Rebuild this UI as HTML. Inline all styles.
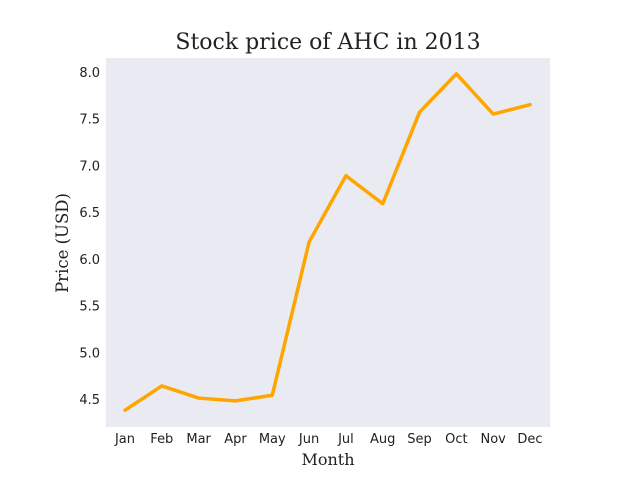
<!DOCTYPE html>
<html><head><meta charset="utf-8"><style>
body{margin:0;background:#fff;}
svg{display:block;}
</style></head><body>
<svg id="chart" width="640" height="480" xmlns="http://www.w3.org/2000/svg">
<rect x="0" y="0" width="640" height="480" fill="#fff"/>
<rect x="106" y="58" width="444" height="369" fill="#eaeaf2"/>
<text x="328" y="49" text-anchor="middle" font-family="DejaVu Serif, serif" font-size="22" fill="#222">Stock price of AHC in 2013</text>
<text x="328" y="465" text-anchor="middle" font-family="DejaVu Serif, serif" font-size="16" fill="#222">Month</text>
<text transform="translate(68,243) rotate(-90)" text-anchor="middle" font-family="DejaVu Serif, serif" font-size="16.5" fill="#222">Price (USD)</text>
<g id="xt"></g><g id="yt"></g>
<polyline id="line" fill="none" stroke="#ffa500" stroke-width="3.5" stroke-linejoin="round" stroke-linecap="round"/>
</svg>
<script>
const months = ["Jan","Feb","Mar","Apr","May","Jun","Jul","Aug","Sep","Oct","Nov","Dec"];
const prices = [4.38,4.64,4.51,4.48,4.54,6.18,6.89,6.59,7.57,7.98,7.55,7.65];
const yTicks = [4.5,5.0,5.5,6.0,6.5,7.0,7.5,8.0];
const ns="http://www.w3.org/2000/svg";
function xs(i){return 125+i*(530-125)/11;}
function ys(v){return 399-(v-4.5)*(399-72)/3.5;}
const xt=document.getElementById('xt'), yt=document.getElementById('yt');
months.forEach((m,i)=>{
  const t=document.createElementNS(ns,'text');
  t.setAttribute('x',xs(i));t.setAttribute('y',443);
  t.setAttribute('text-anchor','middle');
  t.setAttribute('font-family','DejaVu Sans, sans-serif');t.setAttribute('font-size','13');t.setAttribute('fill','#222');
  
  
  t.textContent=m;xt.appendChild(t);
});
yTicks.forEach(v=>{
  const t=document.createElementNS(ns,'text');
  t.setAttribute('x',100);t.setAttribute('y',ys(v)+5);
  t.setAttribute('text-anchor','end');
  t.setAttribute('font-family','DejaVu Sans, sans-serif');t.setAttribute('font-size','13');t.setAttribute('fill','#222');
  
  
  t.textContent=v.toFixed(1);yt.appendChild(t);
});
document.getElementById('line').setAttribute('points',prices.map((p,i)=>xs(i)+','+ys(p)).join(' '));
</script>
</body></html>
